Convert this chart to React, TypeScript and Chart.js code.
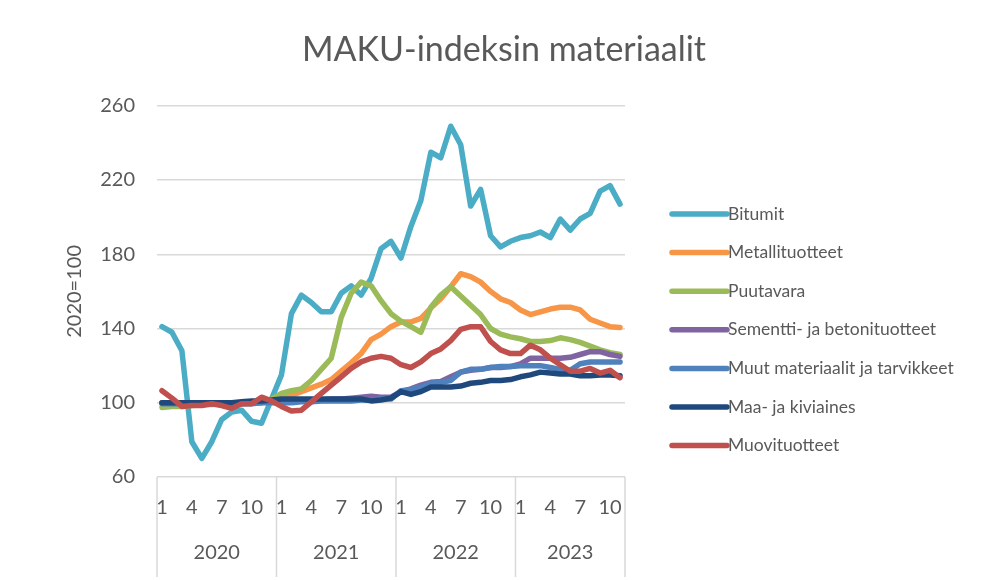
import React, { useEffect, useRef } from 'react';
import { Chart, registerables } from 'chart.js';

Chart.register(...registerables);

// Categories: months 2020-01 .. 2023-11
const months = [
  '1','2','3','4','5','6','7','8','9','10','11','12',
  '1','2','3','4','5','6','7','8','9','10','11','12',
  '1','2','3','4','5','6','7','8','9','10','11','12',
  '1','2','3','4','5','6','7','8','9','10','11',
];
const years = [
  '2020','2020','2020','2020','2020','2020','2020','2020','2020','2020','2020','2020',
  '2021','2021','2021','2021','2021','2021','2021','2021','2021','2021','2021','2021',
  '2022','2022','2022','2022','2022','2022','2022','2022','2022','2022','2022','2022',
  '2023','2023','2023','2023','2023','2023','2023','2023','2023','2023','2023',
];
const shownMonthLabels = ['1', '4', '7', '10'];

const bitumit = [
  141, 138, 128, 79, 70, 79, 91, 95, 96, 90, 89, 102,
  115, 148, 158, 154, 149, 149, 159, 163, 158, 167, 183, 187,
  178, 195, 209, 235, 232, 249, 239, 206, 215, 190, 184, 187,
  189, 190, 192, 189, 199, 193, 199, 202, 214, 217, 207,
];
const metallituotteet = [
  100, 100, 100, 100, 100, 100, 100, 99.5, 100, 100, 100, 101,
  102, 104, 106, 108, 110, 112.5, 117, 121.5, 126.5, 134, 137, 141,
  143.5, 143.5, 145.5, 151, 156, 162.5, 169.5, 168, 165, 160, 156, 154,
  150, 147.5, 149, 150.5, 151.5, 151.5, 150, 145, 143, 141, 140.5,
];
const puutavara = [
  97.5, 98, 98, 98.5, 99, 99, 99.5, 99.5, 99.5, 100, 100, 102,
  105, 106.5, 107.5, 112, 118, 124, 146, 159, 165, 163, 155, 148,
  144, 141, 138, 151.5, 158, 162.5, 157.5, 152.5, 147.5, 140, 137, 135.5,
  134.5, 133, 133, 133.5, 135, 134, 132.5, 130.5, 128.5, 127, 126,
];
const sementti = [
  100, 100, 100, 100, 100, 100, 99.5, 99.5, 100, 100, 100.5, 101,
  101, 101, 101, 101.5, 101.5, 102, 102, 102.5, 103, 103.5, 103, 103,
  106, 107.5, 109.5, 111, 111.5, 114, 116.5, 117.5, 118, 119, 119, 119.5,
  121, 124, 124, 124, 124, 124.5, 126, 127.5, 127.5, 126, 125,
];
const muut = [
  99.5, 99.5, 99.5, 99.5, 99.5, 99.5, 99.5, 99.5, 99.5, 99.5, 100, 100,
  100, 100, 100.5, 100.5, 101, 101, 101, 101, 101.5, 101.5, 102, 102,
  106.5, 107, 108.5, 110.5, 111, 112, 116.5, 118, 118, 119, 119.5, 119.5,
  120, 120, 120, 119, 118, 117.5, 121, 122, 122, 122, 122,
];
const maa = [
  100, 100, 100, 100, 100, 100, 100, 100, 100.5, 101, 101, 101.5,
  102, 102, 102, 102, 102, 102, 102, 102, 102, 101, 101.5, 102.5,
  106, 104.5, 106, 108.5, 108.5, 108.5, 109, 110.5, 111, 112, 112, 112.5,
  114, 115, 116.5, 116, 115.5, 115.5, 114.5, 114.5, 115, 115, 114.5,
];
const muovi = [
  106.5, 102.5, 98, 98.5, 98.5, 99.5, 98.5, 97, 99.5, 99.5, 103, 101,
  98, 95.5, 96, 100.5, 105, 109.5, 114, 118.5, 122, 124, 125, 124,
  120.5, 119, 122, 126.5, 129, 133.5, 139.5, 141, 141, 133, 128.5, 126.5,
  126.5, 131, 128.5, 124, 120.5, 117, 117, 118.5, 116, 117.5, 113.5,
];

const seriesNames = [
  'Bitumit',
  'Metallituotteet',
  'Puutavara',
  'Sementti- ja betonituotteet',
  'Muut materiaalit ja tarvikkeet',
  'Maa- ja kiviaines',
  'Muovituotteet',
];
const seriesValues = [bitumit, metallituotteet, puutavara, sementti, muut, maa, muovi];
const seriesColors = ['#4BACC6', '#F79646', '#9BBB59', '#8064A2', '#4F81BD', '#1F497D', '#C0504D'];

const TEXT = '#595959';
const GRID = '#D9D9D9';
const FONT = 'Lato';

const yearGroupsPlugin = {
  id: 'yearGroups',
  afterDraw(chart: any) {
    const xs = chart.scales.x;
    const ctx = chart.ctx;
    const n = years.length;
    const half = (xs.getPixelForValue(1) - xs.getPixelForValue(0)) / 2;
    const top = chart.chartArea.bottom;
    const bottom = top + 100;
    ctx.save();
    ctx.strokeStyle = GRID;
    ctx.lineWidth = 1.5;
    ctx.fillStyle = TEXT;
    ctx.font = `20px ${FONT}`;
    ctx.textAlign = 'center';
    ctx.textBaseline = 'middle';
    let start = 0;
    const edges: number[] = [xs.getPixelForValue(0) - half];
    for (let i = 1; i <= n; i++) {
      if (i === n || years[i] !== years[i - 1]) {
        const left = xs.getPixelForValue(start) - half;
        const right = xs.getPixelForValue(i - 1) + half;
        edges.push(right);
        ctx.fillText(years[i - 1], (left + right) / 2, top + 76);
        start = i;
      }
    }
    edges.forEach((x) => {
      ctx.beginPath();
      ctx.moveTo(x, top);
      ctx.lineTo(x, bottom);
      ctx.stroke();
    });
    ctx.restore();
  },
};

const legendPlugin = {
  id: 'sideLegend',
  afterDraw(chart: any) {
    const ctx = chart.ctx;
    const x0 = chart.chartArea.right + 47;
    const x1 = x0 + 55;
    const y0 = 214;
    const step = 38.6;
    ctx.save();
    ctx.font = `17.5px ${FONT}`;
    ctx.textAlign = 'left';
    ctx.textBaseline = 'middle';
    seriesNames.forEach((name, i) => {
      const y = y0 + i * step;
      ctx.strokeStyle = seriesColors[i];
      ctx.lineWidth = 5.5;
      ctx.lineCap = 'round';
      ctx.beginPath();
      ctx.moveTo(x0, y);
      ctx.lineTo(x1, y);
      ctx.stroke();
      ctx.fillStyle = TEXT;
      ctx.fillText(name, x1 + 1, y);
    });
    ctx.restore();
  },
};

export default function App() {
  const ref = useRef<HTMLCanvasElement | null>(null);

  useEffect(() => {
    if (!ref.current) return;
    const chart = new Chart(ref.current, {
      type: 'line',
      data: {
        labels: months,
        datasets: seriesNames.map((name, i) => ({
          label: name,
          data: seriesValues[i],
          borderColor: seriesColors[i],
          backgroundColor: seriesColors[i],
          borderWidth: 5.5,
          borderCapStyle: 'round',
          borderJoinStyle: 'round',
          pointRadius: 0,
          tension: 0,
          fill: false,
          order: seriesNames.length - i,
          yAxisID: 'y',
        })),
      },
      options: {
        responsive: false,
        animation: false,
        devicePixelRatio: 1,
        layout: { padding: { left: 17, right: 0, top: 0, bottom: 0 } },
        plugins: {
          legend: { display: false },
          tooltip: { enabled: false },
          title: {
            display: true,
            text: 'MAKU-indeksin materiaalit',
            color: TEXT,
            font: { family: FONT, size: 34, weight: 'normal' },
            padding: { top: 30, bottom: 35 },
          },
        },
        scales: {
          x: {
            type: 'category',
            offset: true,
            grid: { display: false, drawTicks: false },
            border: { display: false },
            ticks: {
              autoSkip: false,
              maxRotation: 0,
              minRotation: 0,
              padding: 19,
              color: TEXT,
              font: { family: FONT, size: 20 },
              callback: (_v: any, i: number) => (shownMonthLabels.includes(months[i]) ? months[i] : ''),
            },
            afterFit: (s: any) => {
              s.height = 103;
            },
          },
          y: {
            type: 'linear',
            position: 'left',
            min: 60,
            max: 260,
            ticks: {
              stepSize: 40,
              padding: 22,
              color: TEXT,
              font: { family: FONT, size: 20 },
            },
            grid: { color: GRID, lineWidth: 1.5, drawTicks: false },
            border: { display: false },
            title: {
              display: true,
              text: '2020=100',
              color: TEXT,
              font: { family: FONT, size: 20 },
              padding: { top: 46, bottom: 0 },
            },
            afterFit: (s: any) => {
              s.width = 140;
            },
          },
          y2: {
            type: 'linear',
            position: 'right',
            display: true,
            grid: { display: false, drawTicks: false },
            border: { display: false },
            ticks: { display: false },
            afterFit: (s: any) => {
              s.width = 366;
            },
          },
        },
      },
      plugins: [yearGroupsPlugin, legendPlugin],
    } as any);
    return () => chart.destroy();
  }, []);

  return (
    <div style={{ position: 'absolute', left: 0, top: 0, width: 991, height: 580, background: '#fff' }}>
      <canvas ref={ref} width={991} height={580} />
    </div>
  );
}
